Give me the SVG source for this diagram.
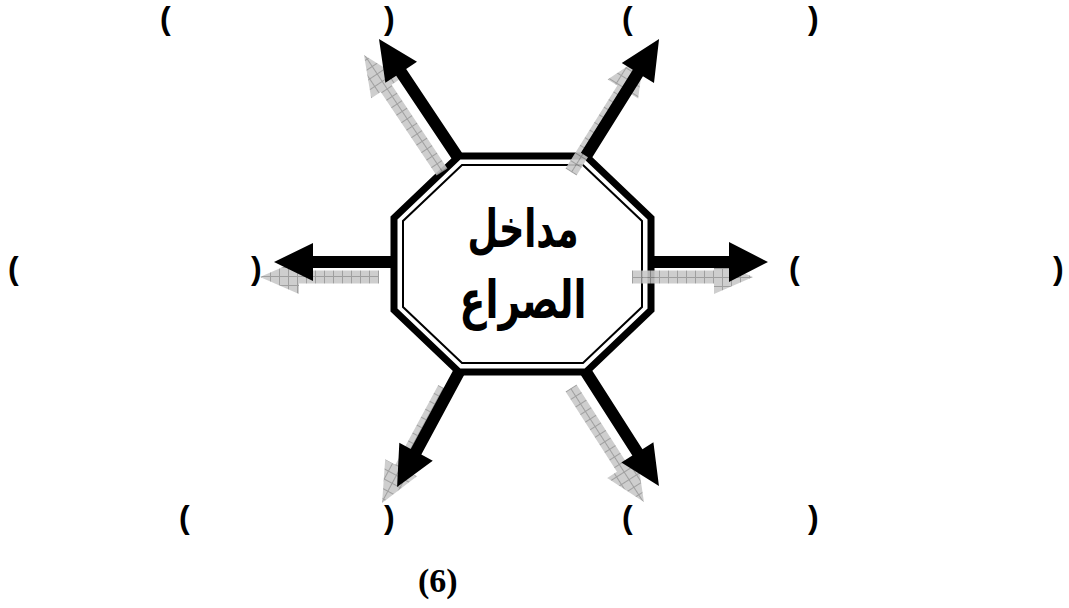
<svg xmlns="http://www.w3.org/2000/svg" width="1069" height="608" viewBox="0 0 1069 608">
  <style>
    .br { font-family: "Liberation Sans", Arial, sans-serif; font-weight: bold; font-size: 32px; fill: #000; }
    .ar { font-family: "DejaVu Sans", "Noto Sans", sans-serif; font-weight: bold; font-size: 44px; fill: #000; text-anchor: middle; }
    .cap { font-family: "Liberation Serif", "Times New Roman", serif; font-weight: bold; font-size: 34px; fill: #000; }
    .blk { fill: #000; }
    .shd { fill: url(#hatch); opacity: 0.9; }
  </style>
  <defs>
    <pattern id="hatch" patternUnits="userSpaceOnUse" width="9" height="9">
      <rect width="9" height="9" fill="#c8c8c8"/>
      <path d="M0 0.5H9M0.5 0V9" stroke="#949494" stroke-width="1"/>
    </pattern>
  </defs>
  <rect width="1069" height="608" fill="#fff"/>

  <g id="center-node">
    <polygon points="459,156 586,156 651,218 651,310 586,372 459,372 394,310 394,218" fill="#fff" stroke="#000" stroke-width="7" stroke-linejoin="miter"/>
    <polygon points="462,165 583,165 642,221 642,307 583,363 462,363 403,307 403,221" fill="none" stroke="#000" stroke-width="2"/>
    <text class="ar" transform="translate(523,247) scale(0.8,1.2)">مداخل</text>
    <text class="ar" transform="translate(523,318) scale(0.86,1.2)">الصراع</text>
  </g>

  <g id="connectors">
    <!-- shadow arrows -->
    <path class="shd" transform="translate(442,172) rotate(-123.7)" d="M0,-6.5H100.6V-18L140.6,0L100.6,18V6.5H0Z"/>
    <path class="shd" transform="translate(571,172) rotate(-58)" d="M0,-6.5H97.9V-18L137.9,0L97.9,18V6.5H0Z"/>
    <path class="shd" transform="translate(379,277) rotate(180)" d="M0,-6.5H80V-17L119,0L80,17V6.5H0Z"/>
    <path class="shd" transform="translate(632,277) rotate(0)" d="M0,-6.5H82V-17L121,0L82,17V6.5H0Z"/>
    <path class="shd" transform="translate(444,388) rotate(118.3)" d="M0,-6.5H90.6V-18L130.6,0L90.6,18V6.5H0Z"/>
    <path class="shd" transform="translate(571,388) rotate(57.4)" d="M0,-6.5H95.4V-18L135.4,0L95.4,18V6.5H0Z"/>
    <!-- black arrows -->
    <path class="blk" transform="translate(457,156) rotate(-123.7)" d="M0,-6H100.6V-19L140.6,0L100.6,19V6H0Z"/>
    <path class="blk" transform="translate(586,156) rotate(-58)" d="M0,-6H97.9V-19L137.9,0L97.9,19V6H0Z"/>
    <path class="blk" transform="translate(394,262) rotate(180)" d="M0,-6H81V-19L120,0L81,19V6H0Z"/>
    <path class="blk" transform="translate(651,262) rotate(0)" d="M0,-6H78V-20L117,0L78,20V6H0Z"/>
    <path class="blk" transform="translate(459,372) rotate(118.3)" d="M0,-6H90.6V-19L130.6,0L90.6,19V6H0Z"/>
    <path class="blk" transform="translate(586,372) rotate(57.4)" d="M0,-6H95.4V-19L135.4,0L95.4,19V6H0Z"/>
  </g>

  <g id="label-top-left">
    <text class="br" x="160" y="29">(</text>
    <text class="br" x="384" y="29">)</text>
  </g>
  <g id="label-top-right">
    <text class="br" x="622" y="29">(</text>
    <text class="br" x="808" y="29">)</text>
  </g>
  <g id="label-left">
    <text class="br" x="8" y="279">(</text>
    <text class="br" x="251" y="279">)</text>
  </g>
  <g id="label-right">
    <text class="br" x="789" y="279">(</text>
    <text class="br" x="1053" y="279">)</text>
  </g>
  <g id="label-bottom-left">
    <text class="br" x="179" y="528">(</text>
    <text class="br" x="384" y="528">)</text>
  </g>
  <g id="label-bottom-right">
    <text class="br" x="622" y="528">(</text>
    <text class="br" x="808" y="528">)</text>
  </g>
  <g id="caption">
    <text class="cap" x="418" y="592">(6)</text>
  </g>
</svg>
